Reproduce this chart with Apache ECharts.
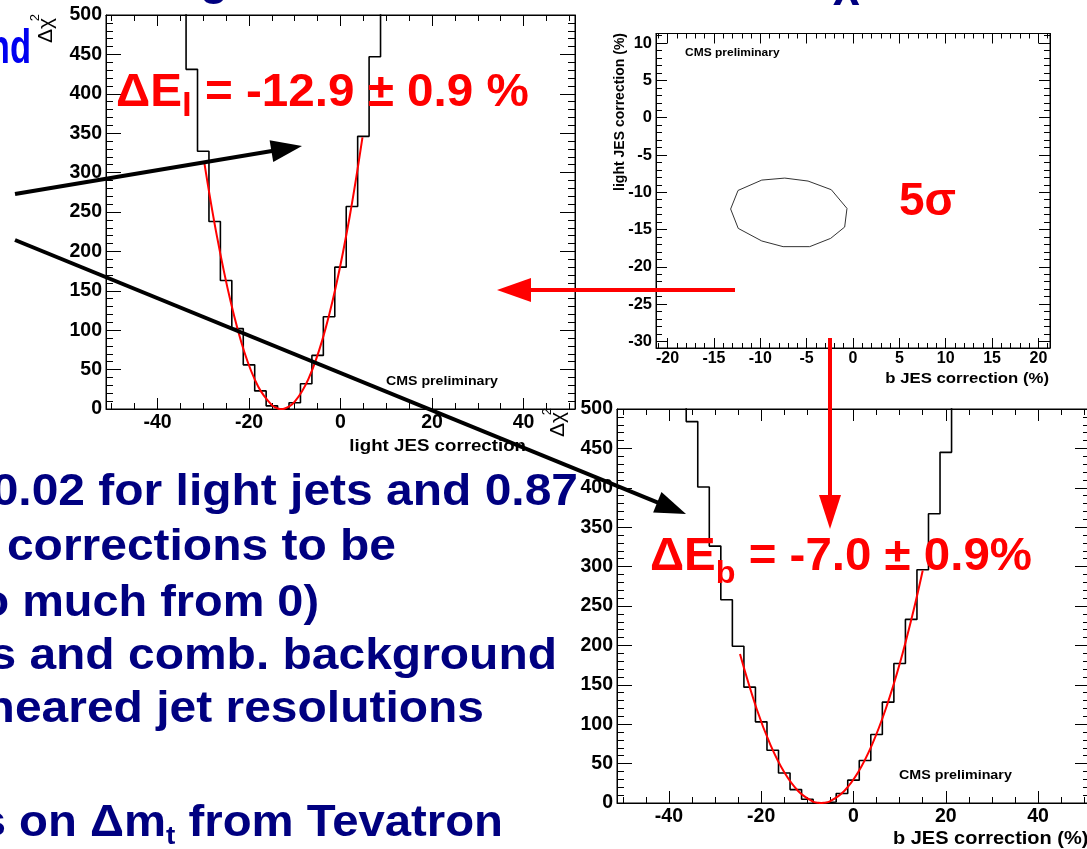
<!DOCTYPE html>
<html>
<head>
<meta charset="utf-8">
<title>JES in-situ calibration</title>
<script src="https://cdn.jsdelivr.net/npm/echarts@6.0.0/dist/echarts.min.js"></script>
<style>
html,body{margin:0;padding:0;background:#fff;}
#chart{width:1087px;height:849px;}
</style>
</head>
<body>
<div id="chart"></div>
<script>
// ---- Δχ² scan versus the light-jet energy-scale shift (bins 2.5 % wide) ----
const BIN_W = 2.5;
const lightBinCentres = [-35, -32.5, -30, -27.5, -25, -22.5, -20, -17.5, -15, -12.5, -10, -7.5, -5, -2.5, 0, 2.5, 5, 7.5, 10];
const lightChi2 = [560, 431, 327, 238, 163, 102, 56, 23, 4, 0.3, 8, 32, 68, 117, 180, 257, 346, 447, 560];
const lightFitX = [-29.8, -27, -24, -21, -18, -15, -13.5, -12.9, -12.3, -10, -7, -4, -1, 2, 4.8];
const lightFitY = [314, 219, 136, 72, 28.6, 4.9, 0.4, 0, 0.4, 9.3, 38.3, 87.1, 155.8, 244, 344.6];

// ---- Δχ² scan versus the b-jet energy-scale shift ----
const bBinCentres = [-37.5, -35, -32.5, -30, -27.5, -25, -22.5, -20, -17.5, -15, -12.5, -10, -7.5, -5, -2.5, 0, 2.5, 5, 7.5, 10, 12.5, 15, 17.5, 20, 22.5];
const bChi2 = [560, 484, 401, 326, 258, 199, 147, 103, 67, 38, 17, 4.7, 0.3, 1.3, 12, 29, 54, 87, 128, 177, 233, 296, 367, 445, 560];
const bFitX = [-24.6, -21, -18, -15, -12, -9, -7.6, -7, -6.4, -5, -2, 1, 4, 7, 10, 13, 15];
const bFitY = [189, 119.6, 73.8, 39, 15.3, 2.4, 0.2, 0, 0.2, 2.4, 15.3, 39, 73.8, 119.6, 176.3, 244, 295];

// ---- 5σ contour in the (b JES, light JES) plane ----
const contourB = [-13.2, -12.4, -9.84, -7.36, -4.85, -2.34, -0.65, -0.9, -2.41, -4.67, -7.54, -9.84, -12.38, -13.2];
const contourL = [-12.25, -9.76, -8.37, -8.1, -8.5, -9.66, -12.17, -14.67, -16.19, -17.3, -17.3, -16.54, -14.85, -12.25];

// ---- tick positions ----
const chi2Major = [0, 50, 100, 150, 200, 250, 300, 350, 400, 450, 500];
const jesMajor = [-40, -20, 0, 20, 40];
const planeXMajor = [-20, -15, -10, -5, 0, 5, 10, 15, 20];
const planeYMajor = [-30, -25, -20, -15, -10, -5, 0, 5, 10];

function minorTicks(from, to, step, major) {
  const out = [];
  for (let v = from; v <= to + 1e-9; v += step) {
    if (!major.some(m => Math.abs(m - v) < 1e-9)) out.push(+v.toFixed(3));
  }
  return out;
}
const chi2Minor = minorTicks(0, 500, 10, chi2Major);
const jesMinor = minorTicks(-50, 50, 5, jesMajor);
const planeXMinor = minorTicks(-21, 21, 1, planeXMajor);
const planeYMinor = minorTicks(-31, 11, 1, planeYMajor);

const FONT = "'Liberation Sans', Arial, Helvetica, sans-serif";
const BLACK = '#000';

// four tick axes per dimension: labelled + minor on one side, mirrored ticks on the other
function axisSet(dim, grid, min, max, major, minor, majLen, minLen, labelSize, labelMargin) {
  const sides = dim === 'x' ? ['bottom', 'top'] : ['left', 'right'];
  const base = { gridIndex: grid, type: 'value', min: min, max: max, splitLine: { show: false }, axisPointer: { show: false } };
  const line = show => ({ show: show, onZero: false, lineStyle: { color: BLACK, width: 1 } });
  const tick = (vals, len) => ({ show: true, inside: true, length: len, customValues: vals, lineStyle: { color: BLACK, width: 1 } });
  return [
    Object.assign({}, base, {
      position: sides[0], axisLine: line(true), axisTick: tick(major, majLen),
      axisLabel: { show: true, customValues: major, margin: labelMargin, color: BLACK, fontSize: labelSize, fontWeight: 'bold', fontFamily: FONT }
    }),
    Object.assign({}, base, { position: sides[0], axisLine: line(false), axisTick: tick(minor, minLen), axisLabel: { show: false } }),
    Object.assign({}, base, { position: sides[1], axisLine: line(true), axisTick: tick(major, majLen), axisLabel: { show: false } }),
    Object.assign({}, base, { position: sides[1], axisLine: line(false), axisTick: tick(minor, minLen), axisLabel: { show: false } })
  ];
}

function stepData(centres, values) {
  const d = centres.map((c, i) => [c - BIN_W / 2, values[i]]);
  d.push([centres[centres.length - 1] + BIN_W / 2, values[values.length - 1]]);
  return d;
}
const zip = (xs, ys) => xs.map((x, i) => [x, ys[i]]);

const grids = [
  { left: 106, top: 15, width: 469, height: 394 },      // light JES scan
  { left: 656, top: 33.5, width: 394, height: 314.5 },  // 2D contour
  { left: 617, top: 409, width: 473, height: 394 }      // b JES scan
].map(g => Object.assign({ show: true, borderColor: BLACK, borderWidth: 1, backgroundColor: 'transparent', containLabel: false, outerBoundsMode: 'none' }, g));

const xAxes = [].concat(
  axisSet('x', 0, -51.25, 51.25, jesMajor, jesMinor, 11, 6, 19.5, 4),
  axisSet('x', 1, -21.25, 21.25, planeXMajor, planeXMinor, 10, 5, 16, 3),
  axisSet('x', 2, -51.25, 51.25, jesMajor, jesMinor, 12, 6, 19.5, 4)
);
const yAxes = [].concat(
  axisSet('y', 0, 0, 500, chi2Major, chi2Minor, 15, 7, 19.5, 4),
  axisSet('y', 1, -30.9, 11.3, planeYMajor, planeYMinor, 11, 6, 16.5, 4),
  axisSet('y', 2, 0, 500, chi2Major, chi2Minor, 15, 7, 19.5, 4)
);

const series = [
  { type: 'line', xAxisIndex: 0, yAxisIndex: 0, data: stepData(lightBinCentres, lightChi2), step: 'end', symbol: 'none', clip: true, lineStyle: { color: BLACK, width: 1.6 }, z: 3 },
  { type: 'line', xAxisIndex: 0, yAxisIndex: 0, data: zip(lightFitX, lightFitY), smooth: 0.4, symbol: 'none', clip: true, lineStyle: { color: '#ff0000', width: 2 }, z: 4 },
  { type: 'line', xAxisIndex: 4, yAxisIndex: 4, data: zip(contourB, contourL), symbol: 'none', clip: true, lineStyle: { color: '#333', width: 1 }, z: 3 },
  { type: 'line', xAxisIndex: 8, yAxisIndex: 8, data: stepData(bBinCentres, bChi2), step: 'end', symbol: 'none', clip: true, lineStyle: { color: BLACK, width: 1.6 }, z: 3 },
  { type: 'line', xAxisIndex: 8, yAxisIndex: 8, data: zip(bFitX, bFitY), smooth: 0.4, symbol: 'none', clip: true, lineStyle: { color: '#ff0000', width: 2 }, z: 4 }
];

// ---- annotation text and arrows ----
const meas = document.createElement('canvas').getContext('2d');
function textWidth(str, size, weight) {
  meas.font = weight + ' ' + size + 'px ' + FONT;
  return meas.measureText(str).width;
}
// a run of text pieces sharing one baseline; piece = [text, size, dy]
function textRun(x0, baseline, pieces, opt) {
  const sx = opt.sx || 1, weight = opt.weight || 'bold';
  const widths = pieces.map(p => textWidth(p[0], p[1], weight) * sx);
  let x = opt.right ? x0 - widths.reduce((a, b) => a + b, 0) : x0;
  return pieces.map((p, i) => {
    const el = {
      type: 'text', x: x, y: baseline + (p[2] || 0) - 0.35 * p[1], scaleX: sx, z: opt.z || 60,
      style: { text: p[0], fill: opt.color, font: weight + ' ' + p[1] + 'px ' + FONT, align: 'left', textAlign: 'left', verticalAlign: 'middle', textVerticalAlign: 'middle' }
    };
    x += widths[i];
    return el;
  });
}
function vText(x, yEnd, str, size, weight) {
  return { type: 'text', x: x, y: yEnd, rotation: Math.PI / 2, z: 60,
    style: { text: str, fill: BLACK, font: weight + ' ' + size + 'px ' + FONT, align: 'right', textAlign: 'right', verticalAlign: 'middle', textVerticalAlign: 'middle' } };
}
function arrow(x1, y1, x2, y2, color, w, headLen, headHalf) {
  const dx = x2 - x1, dy = y2 - y1, L = Math.hypot(dx, dy), ux = dx / L, uy = dy / L;
  const bx = x2 - ux * headLen, by = y2 - uy * headLen, px = -uy, py = ux;
  return [
    { type: 'line', z: 90, shape: { x1: x1, y1: y1, x2: bx + ux * 2, y2: by + uy * 2 }, style: { stroke: color, lineWidth: w } },
    { type: 'polygon', z: 90, shape: { points: [[x2, y2], [bx + px * headHalf, by + py * headHalf], [bx - px * headHalf, by - py * headHalf]] }, style: { fill: color } }
  ];
}

const NAVY = '#000080', RED = '#ff0000';
let graphics = [];
// slide text
graphics = graphics.concat(
  textRun(200, -3, [['g', 46]], { color: NAVY }),
  textRun(833, -2, [['χ', 46]], { color: NAVY }),
  textRun(31, 67, [['nd', 48]], { color: '#0000f0', right: true, sx: 0.72 }),
  textRun(578, 508, [['0.02 for light jets and 0.87', 44]], { color: NAVY, right: true, sx: 1.09 }),
  textRun(396, 563, [['corrections to be', 44]], { color: NAVY, right: true, sx: 1.09 }),
  textRun(319, 619, [['o much from 0)', 44]], { color: NAVY, right: true, sx: 1.065 }),
  textRun(557, 672, [['s and comb. background', 44]], { color: NAVY, right: true, sx: 1.09 }),
  textRun(484, 725, [['neared jet resolutions', 44]], { color: NAVY, right: true, sx: 1.09 }),
  textRun(503, 839, [['s on Δm', 44], ['t', 26, 7], [' from Tevatron', 44]], { color: NAVY, right: true, sx: 1.075 })
);
// fit results
graphics = graphics.concat(
  textRun(116, 109, [['ΔE', 46], ['l', 34, 10], [' = -12.9 ± 0.9 %', 46]], { color: RED, sx: 1.035, z: 70 }),
  textRun(650, 573, [['ΔE', 47], ['b', 32, 12], [' = -7.0 ± 0.9%', 47]], { color: RED, sx: 1.01, z: 70 }),
  textRun(899, 218, [['5σ', 46]], { color: RED, z: 70 })
);
// axis titles and labels
graphics = graphics.concat(
  textRun(526, 452, [['light JES correction', 17]], { color: BLACK, right: true, sx: 1.1 }),
  textRun(893, 845, [['b JES correction (%)', 18]], { color: BLACK, sx: 1.11 }),
  textRun(1049, 384, [['b JES correction (%)', 15.5]], { color: BLACK, right: true, sx: 1.08 }),
  [vText(620, 33, 'light JES correction (%)', 14, 'bold')],
  textRun(386, 386, [['CMS preliminary', 13]], { color: BLACK, sx: 1.09 }),
  textRun(685, 57, [['CMS preliminary', 11]], { color: BLACK, sx: 1.09 }),
  textRun(899, 780, [['CMS preliminary', 13]], { color: BLACK, sx: 1.1 }),
  [vText(46, 18, 'Δχ', 21, 'normal'), vText(35, 14, '2', 13, 'normal')],
  [vText(558, 412, 'Δχ', 21, 'normal'), vText(547, 408, '2', 13, 'normal')]
);
// arrows
graphics = graphics.concat(
  arrow(15, 194, 302, 146, BLACK, 4, 31, 11),
  arrow(15, 240, 686, 514, BLACK, 4, 31, 11),
  arrow(735, 290, 497, 290, RED, 4, 34, 12),
  arrow(830, 338, 830, 529, RED, 4, 34, 11)
);

const chart = echarts.init(document.getElementById('chart'), null, { renderer: 'canvas' });
chart.setOption({
  backgroundColor: '#fff',
  animation: false,
  grid: grids,
  xAxis: xAxes,
  yAxis: yAxes,
  series: series,
  graphic: { elements: graphics }
});
</script>
</body>
</html>
